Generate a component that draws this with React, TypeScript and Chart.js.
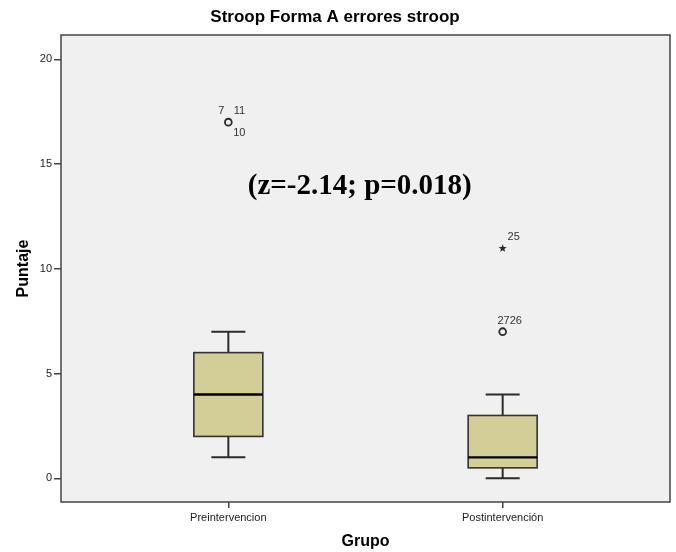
import React, { useEffect, useRef } from "react";
import { Chart, registerables } from "chart.js";

Chart.register(...registerables);

// Groups and five-number summaries for "Stroop Forma A errores stroop"
const groups = ["Preintervencion", "Postintervención"];
const whiskerLow = [1, 0];
const q1 = [2, 0.5];
const median = [4, 1];
const q3 = [6, 3];
const whiskerHigh = [7, 4];

// Outliers: group index, value, case labels, marker kind
const outlierGroup = [0, 1, 1];
const outlierValue = [17, 7, 11];
const outlierKind = ["circle", "circle", "star"];
const outlierCases = [["7", "11", "10"], ["2726"], ["25"]];

const yTicks = [0, 5, 10, 15, 20];
const statsNote = "(z=-2.14; p=0.018)";

const BOX_W = 69;
const CAP_W = 34;
const INK = "#2b2b2b";
const SANS = "'Liberation Sans', Arial, sans-serif";

// Offsets (px) of case labels around an outlier marker
const caseOffsets: Record<string, [number, number][]> = {
  "0-17": [[-7, -11], [11, -11], [11, 11]],
  "1-7": [[7, -11]],
  "1-11": [[11, -11]],
};

const boxPlotPlugin = {
  id: "boxPlotPlugin",
  beforeDatasetsDraw(chart: any) {
    const { ctx, chartArea: a, scales } = chart;
    const x = scales.x;
    const y = scales.y;
    ctx.save();
    ctx.fillStyle = "#f0f0f0";
    ctx.fillRect(a.left, a.top, a.right - a.left, a.bottom - a.top);

    groups.forEach((_, i) => {
      const cx = x.getPixelForValue(i);
      const yLo = y.getPixelForValue(whiskerLow[i]);
      const yQ1 = y.getPixelForValue(q1[i]);
      const yMed = y.getPixelForValue(median[i]);
      const yQ3 = y.getPixelForValue(q3[i]);
      const yHi = y.getPixelForValue(whiskerHigh[i]);

      ctx.strokeStyle = INK;
      ctx.lineWidth = 2;
      ctx.beginPath();
      ctx.moveTo(cx, yQ3);
      ctx.lineTo(cx, yHi);
      ctx.moveTo(cx - CAP_W / 2, yHi);
      ctx.lineTo(cx + CAP_W / 2, yHi);
      ctx.moveTo(cx, yQ1);
      ctx.lineTo(cx, yLo);
      ctx.moveTo(cx - CAP_W / 2, yLo);
      ctx.lineTo(cx + CAP_W / 2, yLo);
      ctx.stroke();

      ctx.fillStyle = "#d3ce97";
      ctx.fillRect(cx - BOX_W / 2, yQ3, BOX_W, yQ1 - yQ3);
      ctx.lineWidth = 1.6;
      ctx.strokeStyle = "#333333";
      ctx.strokeRect(cx - BOX_W / 2, yQ3, BOX_W, yQ1 - yQ3);

      ctx.strokeStyle = "#000000";
      ctx.lineWidth = 2.4;
      ctx.beginPath();
      ctx.moveTo(cx - BOX_W / 2, yMed);
      ctx.lineTo(cx + BOX_W / 2, yMed);
      ctx.stroke();
    });

    // outliers
    outlierValue.forEach((v, k) => {
      const g = outlierGroup[k];
      const px = x.getPixelForValue(g);
      const py = y.getPixelForValue(v);
      if (outlierKind[k] === "circle") {
        ctx.strokeStyle = INK;
        ctx.lineWidth = 1.8;
        ctx.beginPath();
        ctx.arc(px, py, 3.4, 0, Math.PI * 2);
        ctx.stroke();
      } else {
        ctx.fillStyle = INK;
        ctx.beginPath();
        const R = 4.2;
        const r = 1.8;
        for (let j = 0; j < 10; j++) {
          const ang = -Math.PI / 2 + (j * Math.PI) / 5;
          const rad = j % 2 === 0 ? R : r;
          const sx = px + rad * Math.cos(ang);
          const sy = py + 0.5 + rad * Math.sin(ang);
          if (j === 0) ctx.moveTo(sx, sy);
          else ctx.lineTo(sx, sy);
        }
        ctx.closePath();
        ctx.fill();
      }
      const offs = caseOffsets[`${g}-${v}`] || [];
      ctx.fillStyle = "#333333";
      ctx.font = `11px ${SANS}`;
      ctx.textAlign = "center";
      ctx.textBaseline = "middle";
      outlierCases[k].forEach((lab, j) => {
        const o = offs[j] || [8, -11];
        ctx.fillText(lab, px + o[0], py + o[1]);
      });
    });

    // statistic note
    ctx.fillStyle = "#000000";
    ctx.font = "bold 29px 'Liberation Serif', 'Times New Roman', serif";
    ctx.textAlign = "center";
    ctx.textBaseline = "middle";
    ctx.fillText(statsNote, x.getPixelForValue(0.479), y.getPixelForValue(13.95));

    // plot frame
    ctx.strokeStyle = "#444444";
    ctx.lineWidth = 1.5;
    ctx.strokeRect(a.left, a.top, a.right - a.left, a.bottom - a.top);
    ctx.restore();
  },
};

export default function App() {
  const ref = useRef<HTMLCanvasElement>(null);

  useEffect(() => {
    document.body.style.margin = "0";
    const canvas = ref.current;
    if (!canvas) return;
    const chart = new Chart(canvas, {
      type: "scatter",
      data: { datasets: [{ data: [], pointRadius: 0 }] },
      plugins: [boxPlotPlugin],
      options: {
        animation: false,
        responsive: false,
        devicePixelRatio: 1,
        layout: { padding: { left: 0, right: 6, top: 0, bottom: 0 } },
        plugins: {
          legend: { display: false },
          tooltip: { enabled: false },
          title: {
            display: true,
            text: "Stroop Forma A errores stroop",
            color: "#000000",
            font: { family: SANS, size: 17, weight: "bold", lineHeight: 1.2 },
            padding: { top: 7, bottom: 7.6 },
          },
        },
        scales: {
          x: {
            type: "linear",
            min: -0.61,
            max: 1.61,
            afterBuildTicks: (s: any) => {
              s.ticks = groups.map((_, i) => ({ value: i }));
            },
            afterFit: (s: any) => {
              s.height = 50;
            },
            ticks: {
              callback: (v: any) => groups[Number(v)] ?? "",
              color: "#222222",
              font: { family: SANS, size: 11 },
              padding: 3,
              maxRotation: 0,
            },
            grid: { drawOnChartArea: false, tickLength: 6, color: "#444444", lineWidth: 1.5 },
            border: { display: false },
            title: {
              display: true,
              text: "Grupo",
              color: "#000000",
              font: { family: SANS, size: 16, weight: "bold", lineHeight: 1.2 },
              padding: { top: 0, bottom: 0.6 },
            },
          },
          y: {
            type: "linear",
            min: -1.13,
            max: 21.16,
            afterBuildTicks: (s: any) => {
              s.ticks = yTicks.map((v) => ({ value: v }));
            },
            afterFit: (s: any) => {
              s.width = 61;
            },
            ticks: {
              color: "#222222",
              font: { family: SANS, size: 11 },
              padding: 2,
            },
            grid: { drawOnChartArea: false, tickLength: 7, color: "#444444", lineWidth: 1.5 },
            border: { display: false },
            title: {
              display: true,
              text: "Puntaje",
              color: "#000000",
              font: { family: SANS, size: 16, weight: "bold", lineHeight: 1.2 },
              padding: { top: 14.4, bottom: 0 },
            },
          },
        },
      },
    } as any);
    return () => chart.destroy();
  }, []);

  return (
    <div style={{ width: 676, height: 552, background: "#ffffff" }}>
      <canvas ref={ref} width={676} height={552} style={{ display: "block" }} />
    </div>
  );
}
